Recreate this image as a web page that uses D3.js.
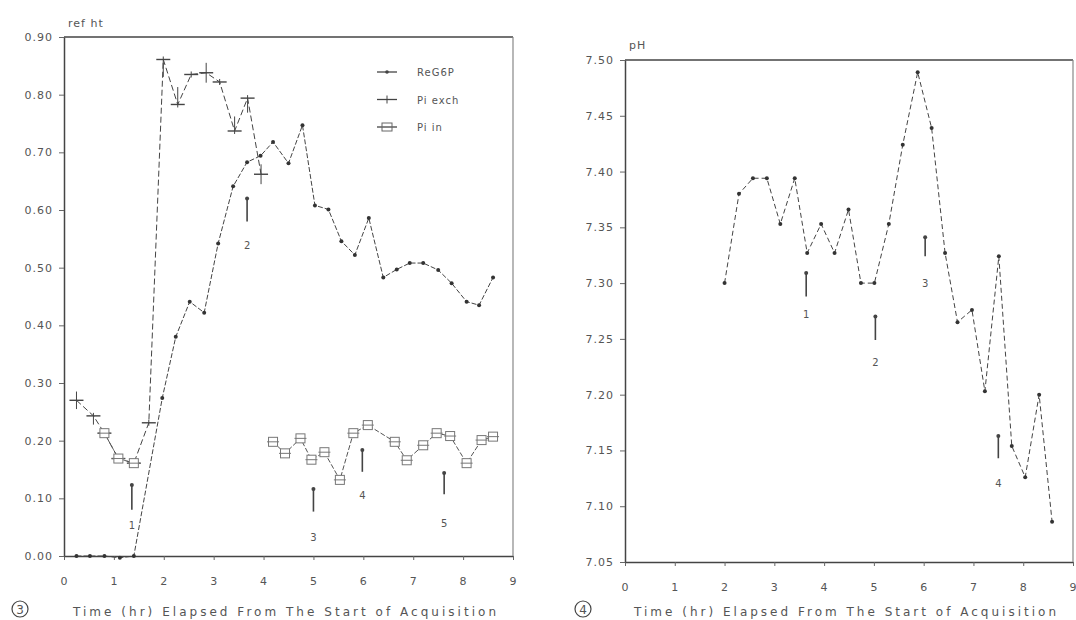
<!DOCTYPE html>
<html>
<head>
<meta charset="utf-8">
<script src="https://cdn.jsdelivr.net/npm/d3@7"></script>
<style>
  body { margin: 0; background: #fff; }
  svg text { font-family: "DejaVu Sans", sans-serif; fill: #555; }
</style>
</head>
<body>
<script>
// ---- panel 3 : relative heights ----
const reg6pTime = [0.25, 0.52, 0.81, 1.12, 1.40, 1.97, 2.24, 2.52, 2.81, 3.09, 3.39, 3.67, 3.94, 4.19,
  4.50, 4.78, 5.03, 5.30, 5.56, 5.83, 6.11, 6.40, 6.67, 6.93, 7.20, 7.50, 7.77, 8.07, 8.32, 8.60]
const reg6pVal = [0, 0, 0, -0.003, 0, 0.274, 0.380, 0.441, 0.422, 0.542, 0.641, 0.683, 0.694, 0.718,
  0.681, 0.747, 0.608, 0.601, 0.546, 0.522, 0.586, 0.483, 0.497, 0.508, 0.508, 0.496, 0.473, 0.441, 0.435, 0.483]

const piExchTime = [0.25, 0.59, 0.81, 1.09, 1.40, 1.70, 1.99, 2.28, 2.55, 2.85, 3.12, 3.42, 3.68, 3.95]
const piExchVal = [0.270, 0.243, 0.213, 0.169, 0.161, 0.231, 0.861, 0.783, 0.835, 0.838, 0.822, 0.737, 0.794, 0.662]
const piExchErrUp = [0.01, 0, 0, 0, 0, 0, 0, 0.025, 0, 0.012, 0, 0.02, 0, 0.012]
const piExchErrDn = [0.01, 0.01, 0, 0, 0, 0, 0.025, 0, 0, 0.012, 0, 0, 0.02, 0.012]

const piInTime1 = [0.81, 1.09, 1.40]
const piInVal1 = [0.213, 0.169, 0.161]
const piInTime2 = [4.19, 4.43, 4.74, 4.96, 5.22, 5.53, 5.80, 6.09, 6.63, 6.87, 7.20, 7.47, 7.74, 8.07, 8.37, 8.60]
const piInVal2 = [0.198, 0.178, 0.204, 0.167, 0.180, 0.132, 0.213, 0.227, 0.198, 0.166, 0.192, 0.213, 0.208, 0.161, 0.201, 0.207]

// event arrows: time, top, bottom, label position, label
const arrowsA = [
  { t: 1.36, top: 0.123, bot: 0.080, lab: 0.053, txt: "1" },
  { t: 3.67, top: 0.620, bot: 0.580, lab: 0.540, txt: "2" },
  { t: 5.00, top: 0.116, bot: 0.077, lab: 0.033, txt: "3" },
  { t: 5.98, top: 0.184, bot: 0.146, lab: 0.106, txt: "4" },
  { t: 7.62, top: 0.144, bot: 0.107, lab: 0.057, txt: "5" }
]

// ---- panel 4 : pH ----
const phTime = [2.00, 2.29, 2.57, 2.85, 3.12, 3.41, 3.66, 3.94, 4.21, 4.49, 4.74, 5.01, 5.30, 5.58, 5.88,
  6.16, 6.43, 6.68, 6.97, 7.23, 7.51, 7.77, 8.04, 8.32, 8.58]
const phVal = [7.300, 7.380, 7.394, 7.394, 7.353, 7.394, 7.327, 7.353, 7.327, 7.366, 7.300, 7.300, 7.353, 7.424, 7.489,
  7.439, 7.327, 7.265, 7.276, 7.203, 7.324, 7.154, 7.126, 7.200, 7.086]

const arrowsB = [
  { t: 3.64, top: 7.309, bot: 7.288, lab: 7.272, txt: "1" },
  { t: 5.03, top: 7.270, bot: 7.249, lab: 7.229, txt: "2" },
  { t: 6.03, top: 7.341, bot: 7.324, lab: 7.300, txt: "3" },
  { t: 7.50, top: 7.163, bot: 7.143, lab: 7.121, txt: "4" }
]

const xTicks = d3.range(0, 10)
const refTicks = d3.range(0, 0.91, 0.1)
const phTicks = d3.range(7.05, 7.501, 0.05)
const xTitle = "Time (hr) Elapsed From The Start of Acquisition"

const ink = "#444"
const svg = d3.select("body").append("svg")
  .attr("width", 1076)
  .attr("height", 620)

function zip(ts, vs) { return ts.map((t, i) => [t, vs[i]]) }

function panel(opt) {
  const g = svg.append("g")
  const x = d3.scaleLinear().domain([0, 9]).range([opt.left, opt.right])
  const y = d3.scaleLinear().domain(opt.yDomain).range([opt.bottom, opt.top])

  g.append("g")
    .attr("transform", `translate(0,${opt.bottom})`)
    .call(d3.axisBottom(x).tickValues(xTicks).tickSize(4).tickPadding(17).tickSizeOuter(0).tickFormat(d3.format("d")))
  g.append("g")
    .attr("transform", `translate(${opt.left},0)`)
    .call(d3.axisLeft(y).tickValues(opt.yTicks).tickSize(5).tickPadding(6).tickSizeOuter(0).tickFormat(d3.format(".2f")))
  g.selectAll(".domain").attr("stroke", ink).attr("stroke-width", 1.5)
  g.selectAll(".tick line").attr("stroke", "#666")
  g.selectAll(".tick text").attr("font-size", 11).style("letter-spacing", "1px").attr("fill", "#555")

  // frame top and right
  g.append("line").attr("x1", opt.left).attr("x2", opt.right).attr("y1", opt.top).attr("y2", opt.top)
    .attr("stroke", ink).attr("stroke-width", 1.5)
  g.append("line").attr("x1", opt.right).attr("x2", opt.right).attr("y1", opt.top).attr("y2", opt.bottom)
    .attr("stroke", "#888").attr("stroke-width", 1.2)

  g.append("text").attr("x", opt.left + 4).attr("y", opt.top - opt.titleGap)
    .attr("font-size", 11).style("letter-spacing", "1px").text(opt.yTitle)

  g.append("text").attr("x", (opt.left + opt.right) / 2 - 4).attr("y", 616)
    .attr("text-anchor", "middle").attr("font-size", 12)
    .attr("textLength", opt.right - opt.left - 26).attr("lengthAdjust", "spacing")
    .text(xTitle)

  g.append("circle").attr("cx", opt.badgeX).attr("cy", 609).attr("r", 8)
    .attr("fill", "none").attr("stroke", ink).attr("stroke-width", 1.2)
  g.append("text").attr("x", opt.badgeX).attr("y", 613.5).attr("text-anchor", "middle")
    .attr("font-size", 12).attr("fill", ink).text(opt.badge)

  return { g, x, y }
}

const line = (x, y) => d3.line().x(d => x(d[0])).y(d => y(d[1]))

function drawArrows(p, list) {
  list.forEach(a => {
    p.g.append("line").attr("x1", p.x(a.t)).attr("x2", p.x(a.t))
      .attr("y1", p.y(a.top)).attr("y2", p.y(a.bot))
      .attr("stroke", ink).attr("stroke-width", 1.6)
    p.g.append("circle").attr("cx", p.x(a.t)).attr("cy", p.y(a.top)).attr("r", 2).attr("fill", ink)
    p.g.append("text").attr("x", p.x(a.t)).attr("y", p.y(a.lab) + 4)
      .attr("text-anchor", "middle").attr("font-size", 10).attr("fill", "#777").text(a.txt)
  })
}

// ---------- left panel ----------
const A = panel({ left: 64, right: 513, top: 37, bottom: 556, yDomain: [0, 0.9], yTicks: refTicks,
  yTitle: "ref ht", titleGap: 10, badge: "3", badgeX: 20 })

const reg = zip(reg6pTime, reg6pVal)
A.g.append("path").datum(reg).attr("d", line(A.x, A.y))
  .attr("fill", "none").attr("stroke", ink).attr("stroke-width", 1).attr("stroke-dasharray", "5,2")
A.g.selectAll(".reg").data(reg).join("circle")
  .attr("cx", d => A.x(d[0])).attr("cy", d => A.y(d[1])).attr("r", 2).attr("fill", "#333")

const pex = zip(piExchTime, piExchVal)
A.g.append("path").datum(pex).attr("d", line(A.x, A.y))
  .attr("fill", "none").attr("stroke", ink).attr("stroke-width", 1).attr("stroke-dasharray", "6,3")
pex.forEach((d, i) => {
  const cx = A.x(d[0]), cy = A.y(d[1])
  A.g.append("line").attr("x1", cx - 7).attr("x2", cx + 7).attr("y1", cy).attr("y2", cy)
    .attr("stroke", ink).attr("stroke-width", 1.4)
  A.g.append("line").attr("x1", cx).attr("x2", cx)
    .attr("y1", A.y(d[1] + piExchErrUp[i]) - 3).attr("y2", A.y(d[1] - piExchErrDn[i]) + 3)
    .attr("stroke", ink).attr("stroke-width", 1)
})

;[zip(piInTime1, piInVal1), zip(piInTime2, piInVal2)].forEach(seg => {
  A.g.append("path").datum(seg).attr("d", line(A.x, A.y))
    .attr("fill", "none").attr("stroke", "#555").attr("stroke-width", 1).attr("stroke-dasharray", "5,2")
  A.g.selectAll(null).data(seg).join("rect")
    .attr("x", d => A.x(d[0]) - 4.5).attr("y", d => A.y(d[1]) - 4.5)
    .attr("width", 9).attr("height", 9)
    .attr("fill", "#fff").attr("stroke", "#777").attr("stroke-width", 1)
  A.g.selectAll(null).data(seg).join("line")
    .attr("x1", d => A.x(d[0]) - 6).attr("x2", d => A.x(d[0]) + 6)
    .attr("y1", d => A.y(d[1])).attr("y2", d => A.y(d[1]))
    .attr("stroke", "#777").attr("stroke-width", 1)
})

drawArrows(A, arrowsA)

// legend
const legNames = ["ReG6P", "Pi exch", "Pi in"]
const leg = A.g.append("g").attr("transform", "translate(377,72)")
legNames.forEach((n, i) => {
  const row = leg.append("g").attr("transform", `translate(0,${i * 27.5})`)
  row.append("line").attr("x1", 0).attr("x2", 20).attr("stroke", ink).attr("stroke-width", 1.3)
  if (i === 0) row.append("circle").attr("cx", 10).attr("r", 1.8).attr("fill", ink)
  if (i === 1) row.append("line").attr("x1", 10).attr("x2", 10).attr("y1", -4).attr("y2", 4).attr("stroke", ink)
  if (i === 2) row.append("rect").attr("x", 5).attr("y", -4).attr("width", 10).attr("height", 8)
    .attr("fill", "none").attr("stroke", "#666")
  row.append("text").attr("x", 40).attr("y", 4).attr("font-size", 10)
    .style("letter-spacing", "1px").attr("fill", "#777").text(n)
})

// ---------- right panel ----------
const B = panel({ left: 625, right: 1073, top: 60, bottom: 562, yDomain: [7.05, 7.5], yTicks: phTicks,
  yTitle: "pH", titleGap: 11, badge: "4", badgeX: 583 })

const ph = zip(phTime, phVal)
B.g.append("path").datum(ph).attr("d", line(B.x, B.y))
  .attr("fill", "none").attr("stroke", ink).attr("stroke-width", 1).attr("stroke-dasharray", "5,3")
B.g.selectAll(".ph").data(ph).join("circle")
  .attr("cx", d => B.x(d[0])).attr("cy", d => B.y(d[1])).attr("r", 2).attr("fill", "#333")

drawArrows(B, arrowsB)
</script>
</body>
</html>
